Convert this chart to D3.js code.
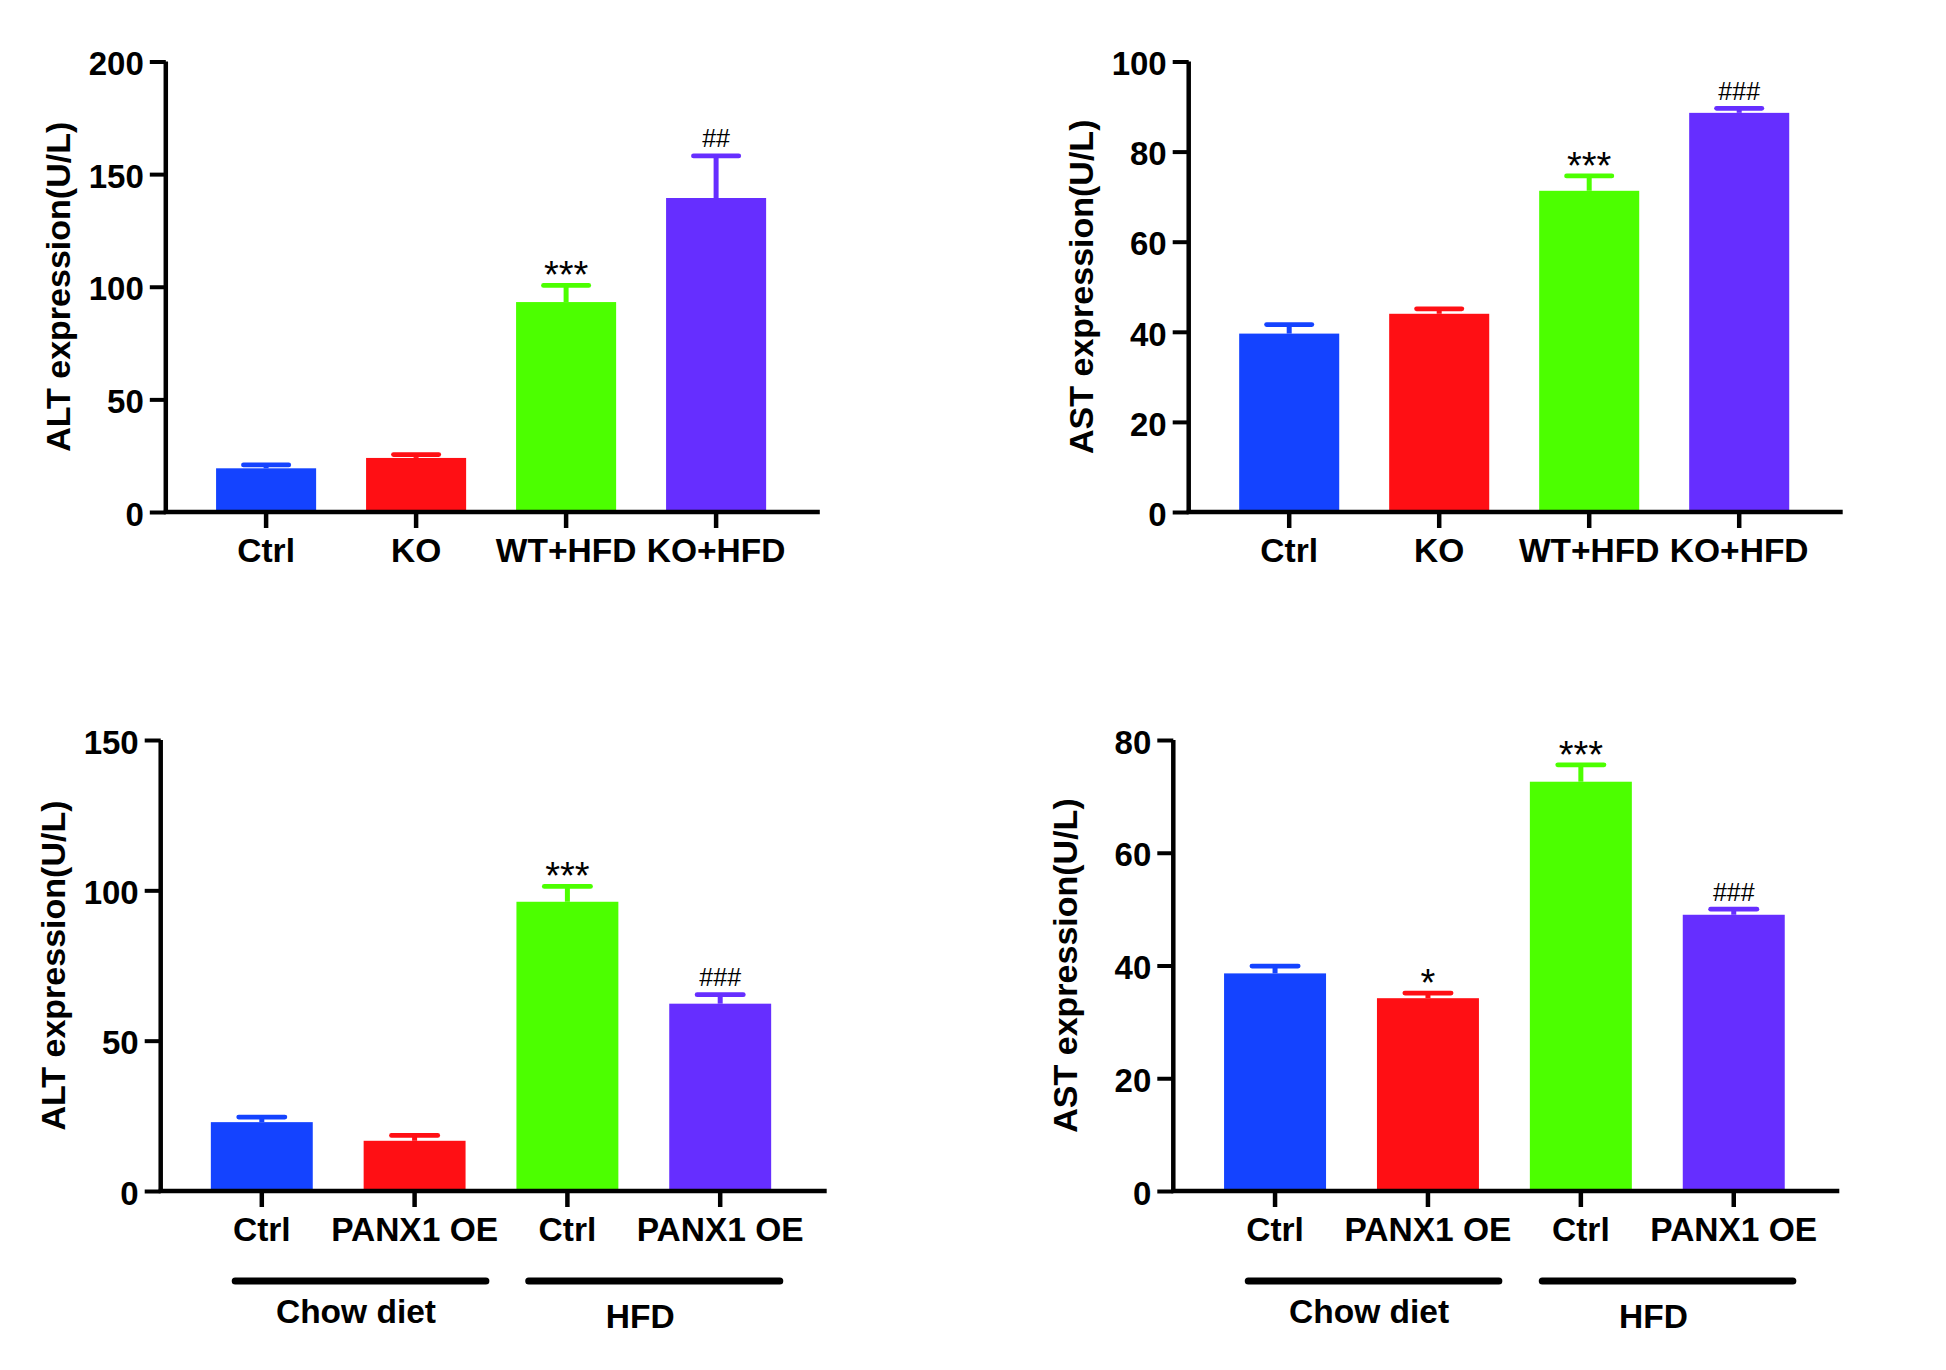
<!DOCTYPE html>
<html><head><meta charset="utf-8">
<script src="https://cdn.jsdelivr.net/npm/d3@7/dist/d3.min.js"></script>
<style>
html,body{margin:0;padding:0;background:#fff;}
svg{display:block;}
text{font-family:"Liberation Sans",Arial,Helvetica,sans-serif;}
</style></head>
<body>
<svg id="chart" width="1946" height="1370"></svg>
<script>
// ---------- data ----------
const catsTop = ["Ctrl", "KO", "WT+HFD", "KO+HFD"];
const catsBottom = ["Ctrl", "PANX1 OE", "Ctrl", "PANX1 OE"];
const barColors = ["#1443FF", "#FF0F14", "#4CFF00", "#662EFF"];

const altTopMean = [19.4, 24.0, 93.2, 139.4];
const altTopErr  = [1.5, 1.5, 7.4, 18.7];
const altTopMarks = ["", "", "***", "##"];
const altTopTicks = [0, 50, 100, 150, 200];

const astTopMean = [39.6, 44.0, 71.3, 88.6];
const astTopErr  = [2.0, 1.1, 3.3, 1.0];
const astTopMarks = ["", "", "***", "###"];
const astTopTicks = [0, 20, 40, 60, 80, 100];

const altBotMean = [22.9, 16.7, 96.2, 62.3];
const altBotErr  = [1.7, 1.8, 5.1, 3.0];
const altBotMarks = ["", "", "***", "###"];
const altBotTicks = [0, 50, 100, 150];

const astBotMean = [38.6, 34.2, 72.6, 49.0];
const astBotErr  = [1.3, 0.9, 3.0, 1.0];
const astBotMarks = ["", "*", "***", "###"];
const astBotTicks = [0, 20, 40, 60, 80];

const groupNames = ["Chow diet", "HFD"];
const groupMembers = [[0, 1], [2, 3]];

// ---------- drawing ----------
const svg = d3.select("#chart");
svg.append("rect").attr("width", 1946).attr("height", 1370).attr("fill", "#fff");

function panel(cfg) {
  const g = svg.append("g").attr("transform", `translate(${cfg.x},0)`);
  const y = d3.scaleLinear().domain([0, d3.max(cfg.ticks)]).range([cfg.y0, cfg.y1]);
  const idx = cfg.cats.map((c, i) => i);
  const x = d3.scaleBand().domain(idx)
    .range([cfg.bandStart, cfg.bandStart + cfg.step * cfg.cats.length])
    .paddingInner(0.333).paddingOuter(0.1665);
  const bw = x.bandwidth();

  // bars
  g.selectAll("rect.bar").data(cfg.mean).join("rect")
    .attr("x", (d, i) => x(i)).attr("width", bw)
    .attr("y", d => y(d)).attr("height", d => y(0) - y(d))
    .attr("fill", (d, i) => barColors[i]);

  // error bars (upper only)
  g.selectAll("line.stem").data(cfg.mean).join("line")
    .attr("x1", (d, i) => x(i) + bw / 2).attr("x2", (d, i) => x(i) + bw / 2)
    .attr("y1", d => y(d)).attr("y2", (d, i) => y(d + cfg.err[i]))
    .attr("stroke", (d, i) => barColors[i]).attr("stroke-width", 5);
  g.selectAll("line.cap").data(cfg.mean).join("line")
    .attr("x1", (d, i) => x(i) + bw / 4 + 2.4).attr("x2", (d, i) => x(i) + bw * 3 / 4 - 2.4)
    .attr("y1", (d, i) => y(d + cfg.err[i])).attr("y2", (d, i) => y(d + cfg.err[i]))
    .attr("stroke", (d, i) => barColors[i]).attr("stroke-width", 4.8)
    .attr("stroke-linecap", "round");

  // significance marks
  g.selectAll("text.mark").data(cfg.marks).join("text")
    .attr("x", (d, i) => x(i) + bw / 2)
    .attr("y", (d, i) => {
      const cy = y(cfg.mean[i] + cfg.err[i]);
      return d.startsWith("#") ? cy - 8.5 : cy + 3;
    })
    .attr("text-anchor", "middle")
    .attr("font-size", d => d.startsWith("#") ? 25 : 38)
    .attr("fill", "#000")
    .text(d => d);

  // y axis
  const ya = g.append("g").call(d3.axisLeft(y).tickValues(cfg.ticks).tickSize(16).tickSizeOuter(0).tickPadding(6));
  ya.select(".domain").attr("stroke-width", 4.5).attr("d", `M0,${cfg.y0 + 2}V${cfg.y1}`);
  ya.selectAll(".tick line").attr("stroke-width", 4);
  ya.selectAll(".tick text").attr("font-size", 33).attr("font-weight", "bold").attr("dy", "0.4em")
    .attr("font-family", '"Liberation Sans",Arial,sans-serif').attr("fill", "#000");

  // x axis line
  g.append("line").attr("x1", -2).attr("x2", cfg.xLen).attr("y1", cfg.y0).attr("y2", cfg.y0)
    .attr("stroke", "#000").attr("stroke-width", 4.5);
  const xa = g.append("g").attr("transform", `translate(0,${cfg.y0})`)
    .call(d3.axisBottom(x).tickSize(16).tickSizeOuter(0).tickPadding(10.6).tickFormat(i => cfg.cats[i]));
  xa.select(".domain").remove();
  xa.selectAll(".tick line").attr("stroke-width", 4.5);
  xa.selectAll(".tick text").attr("font-size", 33.5).attr("font-weight", "bold")
    .attr("font-family", '"Liberation Sans",Arial,sans-serif').attr("fill", "#000");

  // y title
  g.append("text")
    .attr("transform", `translate(-96,${(cfg.y0 + cfg.y1) / 2}) rotate(-90)`)
    .attr("text-anchor", "middle").attr("font-size", 34).attr("font-weight", "bold")
    .attr("fill", "#000").text(cfg.title);

  // group lines
  if (cfg.groups) {
    groupNames.forEach((name, gi) => {
      const m = groupMembers[gi];
      const x1 = x(m[0]) + bw / 2 - cfg.gLeft[gi];
      const x2 = x(m[m.length - 1]) + bw / 2 + cfg.gRight[gi];
      g.append("line").attr("x1", x1).attr("x2", x2)
        .attr("y1", 1281).attr("y2", 1281)
        .attr("stroke", "#000").attr("stroke-width", 7).attr("stroke-linecap", "round");
      g.append("text").attr("x", x(m[0]) + bw / 2 + cfg.gLabelOff[gi])
        .attr("y", cfg.gLabelY[gi]).attr("text-anchor", "middle")
        .attr("font-size", 33.5).attr("font-weight", "bold").attr("fill", "#000").text(name);
    });
  }
}

panel({x: 165.8, y0: 512, y1: 61.5, xLen: 654, bandStart: 25.3, step: 150,
  cats: catsTop, mean: altTopMean, err: altTopErr, marks: altTopMarks, ticks: altTopTicks,
  title: "ALT expression(U/L)"});
panel({x: 1188.7, y0: 512, y1: 61.5, xLen: 654, bandStart: 25.5, step: 150,
  cats: catsTop, mean: astTopMean, err: astTopErr, marks: astTopMarks, ticks: astTopTicks,
  title: "AST expression(U/L)"});
panel({x: 160.7, y0: 1191, y1: 740, xLen: 666, bandStart: 24.7, step: 152.8,
  cats: catsBottom, mean: altBotMean, err: altBotErr, marks: altBotMarks, ticks: altBotTicks,
  title: "ALT expression(U/L)", groups: true,
  gLeft: [26.6, 38.7], gRight: [71.3, 59.6], gLabelOff: [94.2, 72.8], gLabelY: [1323, 1328]});
panel({x: 1173.3, y0: 1191, y1: 740, xLen: 666, bandStart: 25.3, step: 152.9,
  cats: catsBottom, mean: astBotMean, err: astBotErr, marks: astBotMarks, ticks: astBotTicks,
  title: "AST expression(U/L)", groups: true,
  gLeft: [26.8, 38.6], gRight: [70.9, 59.1], gLabelOff: [94, 72.6], gLabelY: [1323, 1328]});
</script>
</body></html>
